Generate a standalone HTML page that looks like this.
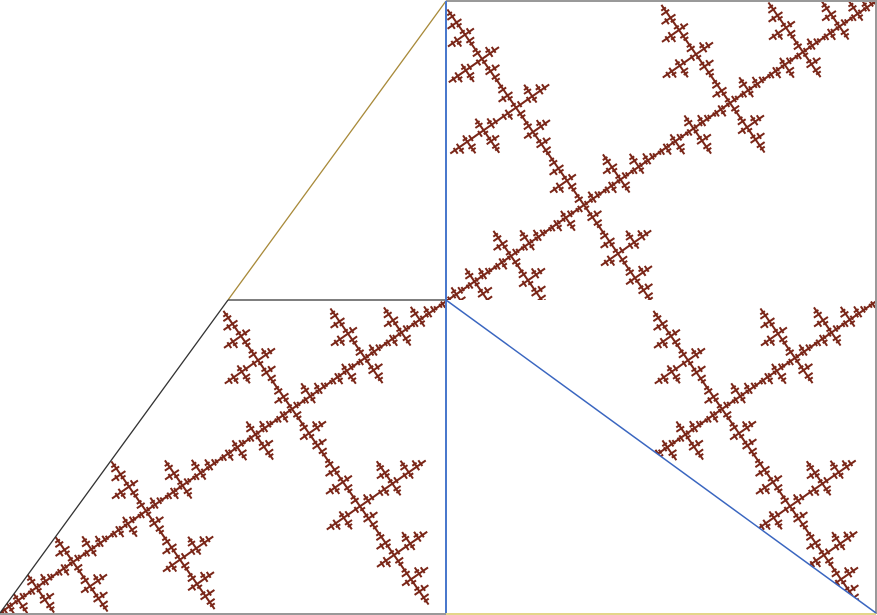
<!DOCTYPE html>
<html><head><meta charset="utf-8"><style>
html,body{margin:0;padding:0;background:#fff;width:877px;height:615px;overflow:hidden;font-family:"Liberation Sans",sans-serif}
</style></head><body>
<svg id="fig" width="877" height="615" viewBox="0 0 877 615" xmlns="http://www.w3.org/2000/svg">
<defs>
<clipPath id="clipMain"><polygon points="0,613 228,300 446,300 446,613"/><rect x="446" y="1" width="430" height="299"/></clipPath>
<clipPath id="clipBR"><polygon points="446,300 876,300 876,613"/></clipPath>
</defs>
<g clip-path="url(#clipMain)"><path id="frac-main" fill="none" stroke="#7a2618" stroke-width="2" stroke-linecap="square"/></g>
<g clip-path="url(#clipBR)"><path id="frac-br" fill="none" stroke="#7a2618" stroke-width="2" stroke-linecap="square"/></g>
<line x1="446" y1="1" x2="877" y2="1" stroke="#999" stroke-width="2"/>
<line x1="876" y1="1" x2="876" y2="614" stroke="#999" stroke-width="2"/>
<line x1="0" y1="614" x2="446" y2="614" stroke="#999" stroke-width="2"/>
<line x1="446" y1="614" x2="876" y2="614" stroke="#e3d68a" stroke-width="2"/>
<line x1="228" y1="300" x2="446" y2="1" stroke="#a88a3a" stroke-width="1.3"/>
<line x1="0" y1="613" x2="228" y2="300" stroke="#333" stroke-width="1.3"/>
<line x1="228" y1="300" x2="446" y2="300" stroke="#333" stroke-width="1.3"/>
<line x1="446" y1="1" x2="446" y2="613" stroke="#4a78cc" stroke-width="2"/>
<line x1="446" y1="300" x2="876" y2="613" stroke="#3a66c0" stroke-width="1.5"/>
</svg>
<script>
// main branches: tip point, target point, whether the junction cross (k=0) is drawn, which layer
const tipX = [0, 876, 430];
const tipY = [613, 1, 613];
const targetX = [584, 584, 1014];
const targetY = [205, 205, 205];
const withJunction = [false, true, false];
const layer = ['frac-main', 'frac-main', 'frac-br'];
const minLen = 2.5;

const segs = {'frac-main': [], 'frac-br': []};
function line(arr, x0, y0, x1, y1){ arr.push('M'+x0.toFixed(1)+' '+y0.toFixed(1)+'L'+x1.toFixed(1)+' '+y1.toFixed(1)); }
function cross(arr, x, y, ux, uy, d){
  const rx = -uy, ry = ux;
  const a = 2*d/3, b = d/3;
  branch(arr, x + rx*a, y + ry*a, -rx, -ry, a, false);
  branch(arr, x - rx*b, y - ry*b, rx, ry, b, false);
}
function branch(arr, tx, ty, ux, uy, len, k0){
  if (len < minLen) { if (len > 0.8) line(arr, tx, ty, tx+ux*len, ty+uy*len); return; }
  line(arr, tx, ty, tx+ux*len, ty+uy*len);
  if (k0) cross(arr, tx+ux*len, ty+uy*len, ux, uy, len);
  for (let d = len/2; d >= minLen; d /= 2) cross(arr, tx+ux*d, ty+uy*d, ux, uy, d);
  for (let m = len; m/4 >= minLen; m /= 2) {
    const ox = tx + ux*0.75*m, oy = ty + uy*0.75*m;
    branch(arr, ox, oy, -ux, -uy, m/4, false);
    branch(arr, ox, oy, ux, uy, m/4, false);
  }
}
for (let i = 0; i < tipX.length; i++) {
  const dx = targetX[i]-tipX[i], dy = targetY[i]-tipY[i];
  const L = Math.hypot(dx, dy);
  branch(segs[layer[i]], tipX[i], tipY[i], dx/L, dy/L, L, withJunction[i]);
}
for (const id in segs) document.getElementById(id).setAttribute('d', segs[id].join(''));
</script>
</body></html>
